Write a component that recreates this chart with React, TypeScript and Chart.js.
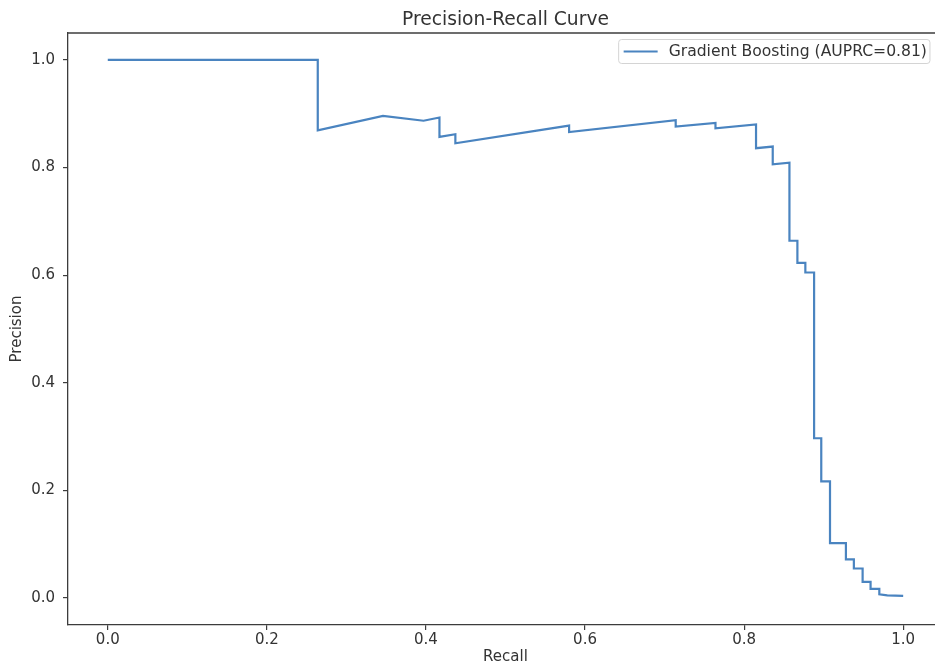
import React, { useEffect, useRef } from "react";
import { Chart, registerables } from "chart.js";

Chart.register(...registerables);

const recall = [
  0.0, 0.264, 0.264, 0.346, 0.397, 0.417, 0.417, 0.437, 0.437, 0.58, 0.58,
  0.714, 0.714, 0.764, 0.764, 0.815, 0.815, 0.836, 0.836, 0.857, 0.857,
  0.867, 0.867, 0.877, 0.877, 0.888, 0.888, 0.897, 0.897, 0.908, 0.908,
  0.928, 0.928, 0.938, 0.938, 0.949, 0.949, 0.959, 0.959, 0.97, 0.97, 0.98,
  1.0,
];
const precision = [
  1.0, 1.0, 0.869, 0.896, 0.887, 0.893, 0.857, 0.862, 0.845, 0.878, 0.866,
  0.888, 0.876, 0.883, 0.873, 0.88, 0.836, 0.839, 0.806, 0.809, 0.664,
  0.664, 0.623, 0.623, 0.605, 0.605, 0.297, 0.297, 0.217, 0.217, 0.102,
  0.102, 0.072, 0.072, 0.055, 0.055, 0.03, 0.03, 0.017, 0.017, 0.007, 0.005,
  0.004,
];
const xTicks = [0, 0.2, 0.4, 0.6, 0.8, 1.0];
const yTicks = [0, 0.2, 0.4, 0.6, 0.8, 1.0];
const seriesLabel = "Gradient Boosting (AUPRC=0.81)";
const chartTitle = "Precision-Recall Curve";
const xLabel = "Recall";
const yLabel = "Precision";

// the reference's plot frame is cut off at the right edge of the picture
const xMin = -0.05;
const xMax = 1.04;
const yMin = -0.05;
const yMax = 1.05;

const FONT = "'DejaVu Sans', sans-serif";
const LINE = "#4a84c0";
const TEXT = "#333333";
const AXIS = "#3c3c3c";

const decor = {
  id: "decor",
  afterDraw(chart: any) {
    const { ctx, chartArea: a } = chart;
    ctx.save();
    // clear any frame remnants along the cut right edge
    ctx.fillStyle = "#ffffff";
    ctx.fillRect(a.right - 6, a.top + 1, 6, a.bottom - a.top - 2);

    ctx.strokeStyle = AXIS;
    ctx.lineWidth = 1.3;
    ctx.beginPath();
    ctx.moveTo(a.left, a.top);
    ctx.lineTo(a.right, a.top);
    ctx.stroke();

    const xs = chart.scales.x;
    const fullRight = xs.getPixelForValue(1.05);
    ctx.fillStyle = TEXT;
    ctx.font = `18.7px ${FONT}`;
    ctx.textAlign = "center";
    ctx.textBaseline = "middle";
    ctx.fillText(chartTitle, (a.left + fullRight) / 2, 20);

    ctx.font = `15.6px ${FONT}`;
    const tw = ctx.measureText(seriesLabel).width;
    const boxRight = fullRight - 13;
    const textRight = boxRight - 3;
    const textLeft = textRight - tw;
    const lineEnd = textLeft - 11;
    const lineStart = lineEnd - 34;
    const boxLeft = lineStart - 5;
    const boxTop = a.top + 6.5;
    const boxH = 24;
    const cy = boxTop + boxH / 2;
    ctx.beginPath();
    (ctx as any).roundRect(boxLeft, boxTop, boxRight - boxLeft, boxH, 3);
    ctx.fillStyle = "rgba(255,255,255,0.85)";
    ctx.fill();
    ctx.strokeStyle = "#d4d4d4";
    ctx.lineWidth = 1;
    ctx.stroke();
    ctx.strokeStyle = LINE;
    ctx.lineWidth = 2.2;
    ctx.beginPath();
    ctx.moveTo(lineStart, cy);
    ctx.lineTo(lineEnd, cy);
    ctx.stroke();
    ctx.fillStyle = TEXT;
    ctx.textAlign = "left";
    ctx.fillText(seriesLabel, textLeft, cy);
    ctx.restore();
  },
};

export default function App() {
  const ref = useRef<HTMLCanvasElement>(null);
  useEffect(() => {
    const points = recall.map((r, i) => ({ x: r, y: precision[i] }));
    const chart = new Chart(ref.current!, {
      type: "scatter",
      data: {
        datasets: [
          {
            label: seriesLabel,
            data: points,
            showLine: true,
            borderColor: LINE,
            backgroundColor: LINE,
            borderWidth: 2.2,
            pointRadius: 0,
            tension: 0,
          },
        ],
      },
      options: {
        responsive: false,
        animation: false,
        devicePixelRatio: 1,
        layout: { padding: { left: 0, right: 0, top: 33, bottom: 0 } },
        plugins: {
          legend: { display: false },
          title: { display: false },
          tooltip: { enabled: false },
        },
        scales: {
          x: {
            type: "linear",
            min: xMin,
            max: xMax,
            afterFit: (s: any) => {
              s.height = 47;
              s.paddingLeft = 0;
              s.paddingRight = 0;
            },
            afterBuildTicks: (s: any) => {
              s.ticks = xTicks.map((v) => ({ value: v }));
            },
            grid: {
              display: true,
              drawOnChartArea: false,
              drawTicks: true,
              tickLength: 5,
              color: AXIS,
              lineWidth: 1.2,
            },
            border: { display: true, color: AXIS, width: 1.3 },
            ticks: {
              padding: 1,
              color: TEXT,
              font: { family: FONT, size: 15 },
              maxRotation: 0,
              callback: (v: any) => Number(v).toFixed(1),
            },
            title: {
              display: false,
            },
          },
          y: {
            type: "linear",
            min: yMin,
            max: yMax,
            afterFit: (s: any) => {
              s.width = 68;
            },
            afterBuildTicks: (s: any) => {
              s.ticks = yTicks.map((v) => ({ value: v }));
            },
            grid: {
              display: true,
              drawOnChartArea: false,
              drawTicks: true,
              tickLength: 5,
              color: AXIS,
              lineWidth: 1.2,
            },
            border: { display: true, color: AXIS, width: 1.3 },
            ticks: {
              padding: 8,
              color: TEXT,
              font: { family: FONT, size: 15 },
              callback: (v: any) => Number(v).toFixed(1),
            },
            title: {
              display: true,
              text: yLabel,
              color: TEXT,
              font: { family: FONT, size: 15 },
              padding: { top: 8, bottom: 8 },
            },
          },
        },
      },
      plugins: [
        decor,
        {
          id: "xTitle",
          afterDraw(chart: any) {
            const { ctx, chartArea: a } = chart;
            const fullRight = chart.scales.x.getPixelForValue(1.05);
            ctx.save();
            ctx.fillStyle = TEXT;
            ctx.font = `15px ${FONT}`;
            ctx.textAlign = "center";
            ctx.textBaseline = "middle";
            ctx.fillText(xLabel, (a.left + fullRight) / 2, 657);
            ctx.restore();
          },
        },
      ],
    });
    return () => chart.destroy();
  }, []);
  return (
    <div
      style={{
        position: "absolute",
        left: 0,
        top: 0,
        width: 935,
        height: 664,
        overflow: "hidden",
        background: "#fff",
      }}
    >
      <canvas
        ref={ref}
        width={935}
        height={672}
        style={{ display: "block", width: 935, height: 672 }}
      />
    </div>
  );
}
